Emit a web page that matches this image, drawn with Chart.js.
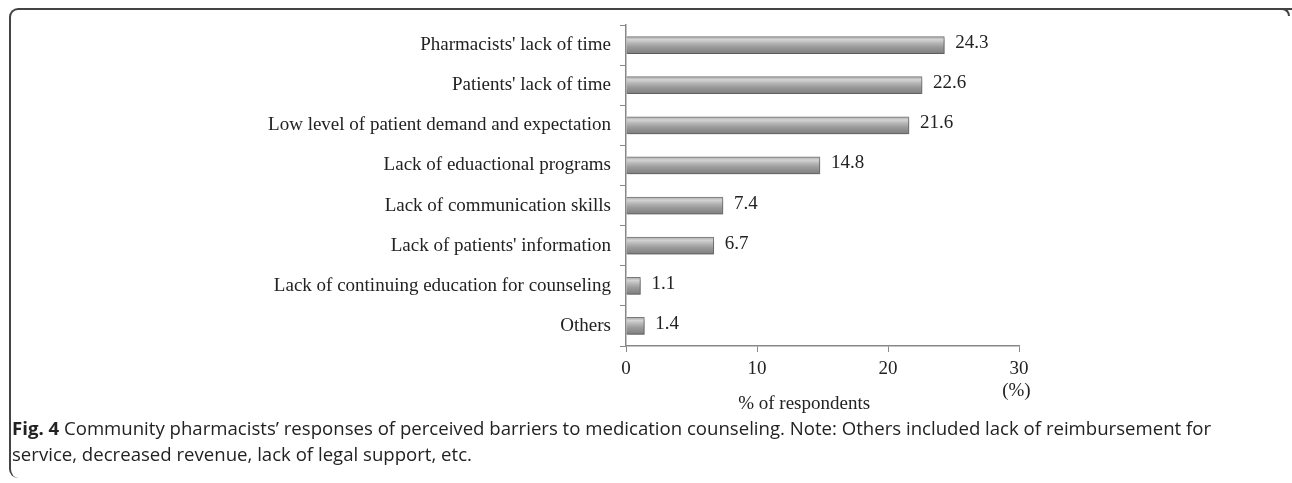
<!DOCTYPE html>
<html><head><meta charset="utf-8">
<script src="https://cdn.jsdelivr.net/npm/chart.js@4.4.0/dist/chart.umd.min.js"></script>
<style>
html,body{margin:0;padding:0;background:#fff;width:1292px;height:483px;overflow:hidden;}
#frame{position:absolute;left:9px;top:8px;width:1290px;height:470px;border-left:2px solid #444;border-top:2px solid #444;border-top-left-radius:9px;border-bottom-left-radius:9px;box-sizing:border-box;}
#corner{position:absolute;left:1280px;top:8px;width:10px;height:8px;border-top:2px solid #444;border-right:2px solid #444;border-top-right-radius:8px;box-sizing:border-box;}
#cv{position:absolute;left:0;top:0;}
#cap{position:absolute;left:12px;top:415px;width:1275px;font-family:"Open Sans",sans-serif;font-size:18.6px;line-height:26px;color:#222;white-space:nowrap;}
</style></head><body>
<div id="frame"></div><div id="corner"></div>
<canvas id="cv" width="1292" height="483"></canvas>
<div id="cap"><b>Fig. 4</b> Community pharmacists’ responses of perceived barriers to medication counseling. Note: Others included lack of reimbursement for<br>service, decreased revenue, lack of legal support, etc.</div>
<script>
const categories = ["Pharmacists' lack of time","Patients' lack of time","Low level of patient demand and expectation","Lack of eduactional programs","Lack of communication skills","Lack of patients' information","Lack of continuing education for counseling","Others"];
const values = [24.3, 22.6, 21.6, 14.8, 7.4, 6.7, 1.1, 1.4];
const xTicks = [0, 10, 20, 30];
const xTitle = "% of respondents";
const unitLabel = "(%)";

const serif = "'Liberation Serif','Times New Roman',serif";

const labelPlugin = {
  id:'labels',
  afterDatasetsDraw(chart){
    const ctx = chart.ctx;
    const meta = chart.getDatasetMeta(0);
    ctx.save();
    ctx.font = "19px " + serif;
    ctx.fillStyle = "#222";
    ctx.textBaseline = "middle";
    ctx.textAlign = "left";
    meta.data.forEach((b,i)=>{
      ctx.fillText(values[i].toFixed(1), b.x + 11, b.y - 2);
    });
    const xs = chart.scales.x;
    ctx.textAlign = "center";
    ctx.fillText(xTitle, xs.getPixelForValue(13.6), 404);
    ctx.fillText(unitLabel, xs.getPixelForValue(29.8), 391);
    ctx.restore();
  }
};

const shadowPlugin = {
  id:'shadow',
  beforeDatasetDraw(chart){
    const ctx = chart.ctx;
    ctx.save();
    ctx.shadowColor = "rgba(0,0,0,0.3)";
    ctx.shadowBlur = 3;
    ctx.shadowOffsetX = 1;
    ctx.shadowOffsetY = 2;
  },
  afterDatasetDraw(chart){ chart.ctx.restore(); }
};

function grad(context){
  const chart = context.chart;
  const ys = chart.scales && chart.scales.y;
  if(!ys || !chart.chartArea) return "#a8a8a8";
  const y = ys.getPixelForValue(context.dataIndex);
  if(!isFinite(y)) return "#a8a8a8";
  const h = 17;
  const g = chart.ctx.createLinearGradient(0, y - h/2, 0, y + h/2);
  g.addColorStop(0, "#a8a8a8");
  g.addColorStop(0.18, "#d4d4d4");
  g.addColorStop(0.4, "#b4b4b4");
  g.addColorStop(0.6, "#9c9c9c");
  g.addColorStop(1, "#7e7e7e");
  return g;
}

new Chart(document.getElementById('cv'), {
  type:'bar',
  data:{labels:categories, datasets:[{data:values, backgroundColor:grad, borderColor:"#7a7a7a", borderWidth:1, barThickness:17}]},
  options:{
    indexAxis:'y', responsive:false, animation:false,
    layout:{padding:{top:25,right:273,left:0,bottom:0}},
    plugins:{legend:{display:false}, tooltip:{enabled:false}},
    scales:{
      x:{min:0,max:30,
        afterFit(s){ s.height = 137; },
        afterBuildTicks(s){ s.ticks = xTicks.map(v=>({value:v})); },
        grid:{drawOnChartArea:false, drawTicks:true, tickLength:6, color:"#888"},
        border:{color:"#888", width:1.5},
        ticks:{font:{family:serif,size:19}, color:"#222", padding:6}
      },
      y:{
        afterFit(s){ s.width = 626; },
        grid:{offset:true, drawOnChartArea:false, tickLength:6, color:"#888"},
        border:{color:"#888", width:1.5},
        ticks:{font:{family:serif,size:19}, color:"#222", padding:9}
      }
    }
  },
  plugins:[shadowPlugin, labelPlugin]
});
</script>
</body></html>
